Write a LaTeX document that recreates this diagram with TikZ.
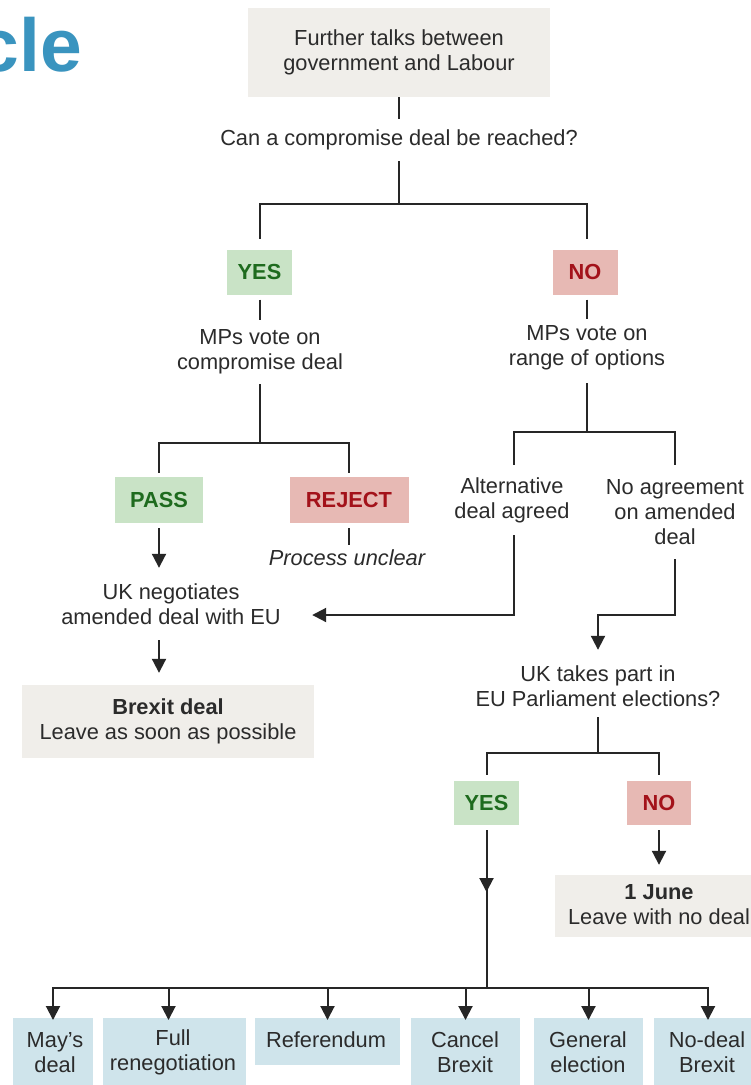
\documentclass[tikz,border=0pt]{standalone}
\usepackage{fontspec}
\setmainfont{Liberation Sans}
\usetikzlibrary{arrows.meta}
\definecolor{boxgrey}{HTML}{F0EEEA}
\definecolor{yesfill}{HTML}{C9E3C6}
\definecolor{yestext}{HTML}{1E6B1E}
\definecolor{nofill}{HTML}{E7B9B4}
\definecolor{notext}{HTML}{A3121A}
\definecolor{optfill}{HTML}{CFE4EB}
\definecolor{linec}{HTML}{262626}
\definecolor{txtc}{HTML}{2B2B2B}
\definecolor{titleblue}{HTML}{3A94BF}
\newcommand\myfs{\fontsize{21.8}{25}\selectfont}
\begin{document}
\begin{tikzpicture}[x=1pt,y=-1pt,
  every node/.style={text=txtc, font=\myfs, align=center, inner sep=0pt},
  conn/.style={draw=linec, line width=2pt},
  arr/.style={conn, -{Triangle[width=14pt,length=14pt]}},
  greybox/.style={fill=boxgrey},
  yesbox/.style={fill=yesfill, text=yestext, font=\myfs\bfseries, minimum width=65pt, minimum height=45pt},
  nobox/.style={fill=nofill, text=notext, font=\myfs\bfseries, minimum width=65pt, minimum height=45pt},
  optbox/.style={fill=optfill, anchor=north, minimum height=72pt}]
\useasboundingbox[fill=white] (0,0) rectangle (751,1085);
\node[anchor=base east, font=\fontsize{75}{75}\selectfont\bfseries, text=titleblue] (title) at (82,71) {cle};

\node[greybox, minimum width=302pt, minimum height=89pt] (top) at (399,52.5) {Further talks between\\government and Labour};
\node[minimum height=42pt] (q) at (399,140) {Can a compromise deal be reached?};
\coordinate (s1) at (399,204);
\node[yesbox] (yes1) at (259.5,272) {YES};
\node[nobox] (no1) at (585,272) {NO};
\draw[conn] (top.south) -- (q.north);
\draw[conn] (q.south) -- (s1);
\draw[conn, shorten >=10pt] (s1) -| (yes1.north);
\draw[conn, shorten >=10pt] (s1) -| ([xshift=2pt]no1.north);

\node[minimum height=64pt] (mpc) at (260,352) {MPs vote on\\compromise deal};
\node[minimum height=58pt] (mpr) at (587,348) {MPs vote on\\range of options};
\draw[conn, shorten <=5pt] (yes1.south) -- (yes1.south |- mpc.north);
\draw[conn, shorten <=5pt] (mpr.north |- no1.south) -- (mpr.north);

\coordinate (s2) at (260,443);
\node[fill=yesfill, text=yestext, font=\myfs\bfseries, minimum width=88pt, minimum height=46pt] (pass) at (159,500) {PASS};
\node[fill=nofill, text=notext, font=\myfs\bfseries, minimum width=119pt, minimum height=46pt] (reject) at (349,500) {REJECT};
\draw[conn] (mpc.south) -- (s2);
\draw[conn, shorten >=4pt] (s2) -| (pass.north);
\draw[conn, shorten >=4pt] (s2) -| (reject.north);
\node[font=\myfs\itshape, minimum height=26pt] (pu) at (347,558) {Process unclear};
\draw[conn, shorten <=5pt] (reject.south) -- (reject.south |- pu.north);

\coordinate (s3) at (587,432);
\node[minimum height=70pt] (alt) at (512,500) {Alternative\\deal agreed};
\node[minimum height=94pt] (noagr) at (675,512) {No agreement\\on amended\\deal};
\draw[conn, shorten <=6pt] (mpr.south) -- (s3);
\draw[conn] (s3) -| ([xshift=2pt]alt.north);
\draw[conn] (s3) -| (noagr.north);

\node[minimum width=282pt, minimum height=72pt] (ukn) at (171,604) {UK negotiates\\amended deal with EU};
\draw[arr] ([xshift=2pt]alt.south) |- ([yshift=-11pt]ukn.east);
\draw[arr, shorten <=5pt] (pass.south) -- (pass.south |- ukn.north);
\node[greybox, minimum width=292pt, minimum height=73pt] (bd) at (168,721.5) {\textbf{Brexit deal}\\Leave as soon as possible};
\draw[arr, shorten >=12pt] (pass.south |- ukn.south) -- (pass.south |- bd.north);

\coordinate (k1) at (675,615);
\node[minimum height=72pt] (ukp) at (598,686) {UK takes part in\\EU Parliament elections?};
\draw[arr] (noagr.south) -- (k1) -| (ukp.north);

\coordinate (s4) at (598,753);
\draw[conn, shorten <=-5pt] (ukp.south) -- (s4);
\node[yesbox, minimum height=44pt] (yes2) at (486.5,803) {YES};
\node[nobox, minimum height=44pt, minimum width=64pt] (no2) at (659,803) {NO};
\draw[conn, shorten >=6pt] (s4) -| (yes2.north);
\draw[conn, shorten >=6pt] (s4) -| (no2.north);

\node[greybox, minimum width=208pt, minimum height=62pt] (june) at (659,906) {};
\node (junetxt) at (659,905) {\textbf{1 June}\\Leave with no deal};
\draw[arr, shorten <=5pt, shorten >=10pt] (no2.south) -- (june.north);

\coordinate (m1) at (486.5,892);
\coordinate (s5) at (486.5,988);
\draw[conn, shorten <=5pt] (yes2.south) -- (s5);
\draw[arr, shorten <=5pt] (yes2.south) -- (m1);

\node[optbox, minimum width=80pt] (b1) at (53,1018) {};
\node[optbox, minimum width=143pt] (b2) at (174.5,1018) {};
\node[optbox, minimum width=145pt, minimum height=47pt] (b3) at (327.5,1018) {};
\node[optbox, minimum width=109pt] (b4) at (465.5,1018) {};
\node[optbox, minimum width=109pt] (b5) at (588.5,1018) {};
\node[optbox, minimum width=106pt] (b6) at (707,1018) {};
\node (t1) at (55,1052.5) {May’s\\deal};
\node (t2) at (173,1052.5) {Full\\renegotiation};
\node (t3) at (326,1040) {Referendum};
\node (t4) at (465,1052.5) {Cancel\\Brexit};
\node (t5) at (588,1052.5) {General\\election};
\node (t6) at (707,1052.5) {No-deal\\Brexit};
\draw[arr, shorten >=-2pt] (s5) -| (b1.north);
\draw[arr, shorten >=-2pt] (s5) -| ([xshift=-6pt]b2.north);
\draw[arr, shorten >=-2pt] (s5) -| (b3.north);
\draw[arr, shorten >=-2pt] (s5) -| (b4.north);
\draw[arr, shorten >=-2pt] (s5) -| (b5.north);
\draw[arr, shorten >=-2pt] (s5) -| ([xshift=1pt]b6.north);
\end{tikzpicture}
\end{document}
